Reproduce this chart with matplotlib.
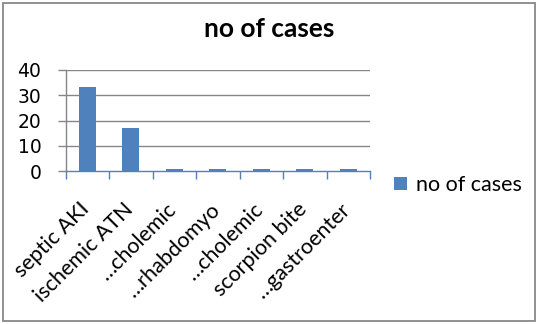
import matplotlib
matplotlib.use("Agg")
import matplotlib.pyplot as plt
import matplotlib.transforms as mtransforms
from matplotlib.patches import Rectangle

categories = ["septic AKI", "ischemic ATN", "\u2026cholemic", "\u2026rhabdomyo",
              "\u2026cholemic", "scorpion bite", "\u2026gastroenter"]
values = [33, 17, 1, 1, 1, 1, 1]
series_name = "no of cases"
title = "no of cases"
y_ticks = [0, 10, 20, 30, 40]

W, H = 538, 324
fig = plt.figure(figsize=(W / 100, H / 100), dpi=100)
fig.patch.set_facecolor("white")

ax = fig.add_axes([65.7 / W, 1 - 171.3 / H, (370 - 65.7) / W, (171.3 - 69.7) / H])

bar_color = "#4F81BD"
grid_color = "#868686"
x = list(range(len(categories)))
ax.bar(x, values, width=0.39, color=bar_color, label=series_name, zorder=3)

ax.set_xlim(-0.5, len(categories) - 0.5)
ax.set_ylim(0, 40)
ax.set_yticks(y_ticks)
ax.set_yticklabels([str(v) for v in y_ticks], fontfamily="DejaVu Sans", fontsize=13.5)
for v in y_ticks[1:]:
    ax.axhline(v, color=grid_color, lw=1.0, zorder=1)

# category boundary ticks on x axis
ax.set_xticks([i - 0.5 for i in range(len(categories) + 1)])
ax.set_xticklabels([])
ax.set_xticks(x, minor=True)
ax.set_xticklabels(categories, minor=True, rotation=45, ha="right", va="top",
                   fontfamily="Lato", fontsize=15.5)
ax.tick_params(axis="x", which="major", direction="out", length=5.5, width=1,
               color=bar_color)
ax.tick_params(axis="x", which="minor", length=0, pad=20)
ax.tick_params(axis="y", direction="out", length=5.5, width=1, color=grid_color,
               pad=12)
offset = mtransforms.ScaledTranslation(6 / 100, 0, fig.dpi_scale_trans)
for lab in ax.get_xticklabels(minor=True):
    lab.set_transform(lab.get_transform() + offset)

for s in ["top", "right"]:
    ax.spines[s].set_visible(False)
ax.spines["left"].set_color(grid_color)
ax.spines["left"].set_linewidth(1)
ax.spines["bottom"].set_color(bar_color)
ax.spines["bottom"].set_linewidth(1)
ax.spines["bottom"].set_zorder(4)

fig.text(269.6 / W, 1 - 37.3 / H, title, ha="center", va="baseline",
         fontfamily="Lato", fontweight="bold", fontsize=19)

h, l = ax.get_legend_handles_labels()
fs = 15.5
em = fs * 100 / 72
fig.legend(h, l, loc="center left", bbox_to_anchor=(394 / W, 1 - 185 / H),
           frameon=False, borderpad=0, borderaxespad=0,
           handlelength=13 / em, handleheight=13 / em, handletextpad=9.5 / em,
           prop={"family": "Lato", "size": fs})

fig.patches.append(Rectangle((2.7 / W, 1 - 321.3 / H), (535 - 2.7) / W,
                             (321.3 - 2.7) / H, transform=fig.transFigure,
                             fill=False, edgecolor="#888888", lw=1.3))

fig.savefig("out.png", dpi=100)
